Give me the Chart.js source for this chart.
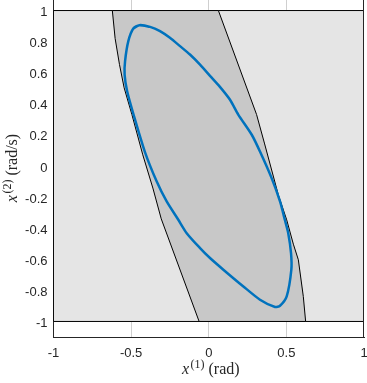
<!DOCTYPE html>
<html><head><meta charset="utf-8">
<script src="https://cdn.jsdelivr.net/npm/chart.js@4.4.1/dist/chart.umd.min.js"></script>
<style>
html,body{margin:0;padding:0;background:#fff;overflow:hidden;width:367px;height:383px;}
#wrap{position:absolute;left:0;top:-5px;width:367px;height:392px;}
canvas{display:block;}
</style></head><body>
<div id="wrap"><canvas id="c" width="367" height="392"></canvas></div>
<script>
// ---- data ----
const boundsX = [-1, 1, 1, -1, -1];
const boundsY = [-1, -1, 1, 1, -1];

const regionX = [-0.621, -0.603, -0.575, -0.545, -0.495, -0.425, -0.360, -0.306, -0.062,
                  0.624, 0.609, 0.577, 0.545, 0.502, 0.448, 0.360, 0.308, 0.062, -0.621];
const regionY = [1.000, 0.820, 0.653, 0.503, 0.331, 0.072, -0.142, -0.340, -1.000,
                 -1.000, -0.839, -0.603, -0.503, -0.346, -0.185, 0.142, 0.331, 1.000, 1.000];

const curveX = [-0.447, -0.378, -0.314, -0.250, -0.185, -0.121, -0.056, 0.008, 0.072, 0.137,
                 0.190, 0.277, 0.330, 0.405, 0.459, 0.490, 0.512, 0.530, 0.532, 0.502,
                 0.459, 0.427, 0.330, 0.223, 0.094, 0.008, -0.056, -0.142, -0.196, -0.271,
                -0.335, -0.412, -0.484, -0.526, -0.542, -0.539, -0.518, -0.486];
const curveY = [0.906, 0.895, 0.868, 0.825, 0.771, 0.717, 0.652, 0.580, 0.509, 0.426,
                0.331, 0.201, 0.093, -0.078, -0.228, -0.346, -0.432, -0.560, -0.667, -0.839,
               -0.899, -0.907, -0.860, -0.775, -0.667, -0.592, -0.528, -0.432, -0.346, -0.228,
               -0.100, 0.093, 0.329, 0.482, 0.588, 0.675, 0.803, 0.884];

const xTicks = [-1, -0.5, 0, 0.5, 1];
const xTickLabels = ['-1', '-0.5', '0', '0.5', '1'];
const yTicks = [-1, -0.8, -0.6, -0.4, -0.2, 0, 0.2, 0.4, 0.6, 0.8, 1];
const yTickLabels = ['-1', '-0.8', '-0.6', '-0.4', '-0.2', '0', '0.2', '0.4', '0.6', '0.8', '1'];

const xTitleParts = ['x', '(1)', ' (rad)'];
const yTitleParts = ['x', '(2)', ' (rad/s)'];

// ---- helpers ----
const pts = (xs, ys) => xs.map((x, i) => ({x: x, y: ys[i]}));
const curvePts = pts(curveX, curveY);
const curveClosed = curvePts.concat(curvePts.slice(0, 2));
curveClosed.unshift(curvePts[curvePts.length - 1]);

const AXC = '#262626';
const SERIF = '"Liberation Serif", "Times New Roman", serif';

function drawRich(ctx, parts, cx, y) {
  const fonts = ['italic 16px ' + SERIF, '12px ' + SERIF, '16px ' + SERIF];
  const dys = [0, -6, 0];
  const gaps = [1.5, 0, 0];
  let widths = parts.map((t, i) => { ctx.font = fonts[i]; return ctx.measureText(t).width; });
  const total = widths.reduce((a, b) => a + b, 0) + gaps.reduce((a, b) => a + b, 0);
  let x = cx - total / 2;
  parts.forEach((t, i) => {
    ctx.font = fonts[i];
    ctx.fillText(t, x, y + dys[i]);
    x += widths[i] + gaps[i];
  });
}

const decor = {
  id: 'decor',
  afterDraw(chart) {
    const {ctx, chartArea: a} = chart;
    ctx.save();
    ctx.strokeStyle = AXC;
    ctx.lineWidth = 1;
    ctx.beginPath();
    ctx.moveTo(Math.round(a.right) - 0.5, a.top);
    ctx.lineTo(Math.round(a.right) - 0.5, a.bottom);
    ctx.moveTo(a.left, a.top + 0.5);
    ctx.lineTo(a.right, a.top + 0.5);
    ctx.stroke();
    ctx.fillStyle = AXC;
    ctx.textBaseline = 'alphabetic';
    ctx.textAlign = 'left';
    const cx = (a.left + a.right) / 2;
    drawRich(ctx, xTitleParts, cx + 2, 379);
    ctx.translate(17, (a.top + a.bottom) / 2 + 2);
    ctx.rotate(-Math.PI / 2);
    drawRich(ctx, yTitleParts, 0, 0);
    ctx.restore();
  }
};

new Chart(document.getElementById('c'), {
  type: 'line',
  data: {
    datasets: [
      {data: curveClosed, borderColor: '#0072bd', borderWidth: 2.5, pointRadius: 0,
       fill: false, tension: 0.25, order: 0},
      {data: pts(regionX, regionY), borderColor: '#000000', borderWidth: 1, pointRadius: 0,
       backgroundColor: '#c8c8c8', fill: 'shape', tension: 0, order: 1},
      {data: pts(boundsX, boundsY), borderColor: '#000000', borderWidth: 1, pointRadius: 0,
       backgroundColor: '#e5e5e5', fill: 'shape', tension: 0, order: 2}
    ]
  },
  options: {
    responsive: false,
    animation: false,
    events: [],
    layout: {padding: {left: 0, right: 3, top: 0, bottom: 0}},
    plugins: {legend: {display: false}, tooltip: {enabled: false}, title: {display: false}},
    scales: {
      x: {
        type: 'linear', min: -1, max: 1,
        afterBuildTicks: s => { s.ticks = xTicks.map(v => ({value: v})); },
        afterFit: s => { s.height = 50; s.paddingLeft = 0; s.paddingRight = 0; },
        ticks: {autoSkip: false, maxRotation: 0, padding: 9, color: AXC,
                font: {family: '"Liberation Sans", Arial, sans-serif', size: 13},
                callback: (v, i) => xTickLabels[i]},
        grid: {drawTicks: false, lineWidth: 1,
               color: c => (c.tick && Math.abs(c.tick.value) < 0.99) ? '#cfcfcf' : 'rgba(0,0,0,0)'},
        border: {display: true, color: AXC, width: 1}
      },
      y: {
        type: 'linear', min: -1.1, max: 1.1,
        afterBuildTicks: s => { s.ticks = yTicks.map(v => ({value: v})); },
        afterFit: s => { s.width = 53.5; s.paddingTop = 0; s.paddingBottom = 0; },
        ticks: {autoSkip: false, padding: 6, labelOffset: 2, color: AXC,
                font: {family: '"Liberation Sans", Arial, sans-serif', size: 13},
                callback: (v, i) => yTickLabels[i]},
        grid: {display: false, drawTicks: false},
        border: {display: true, color: AXC, width: 1}
      }
    }
  },
  plugins: [decor]
});
</script>
</body></html>
